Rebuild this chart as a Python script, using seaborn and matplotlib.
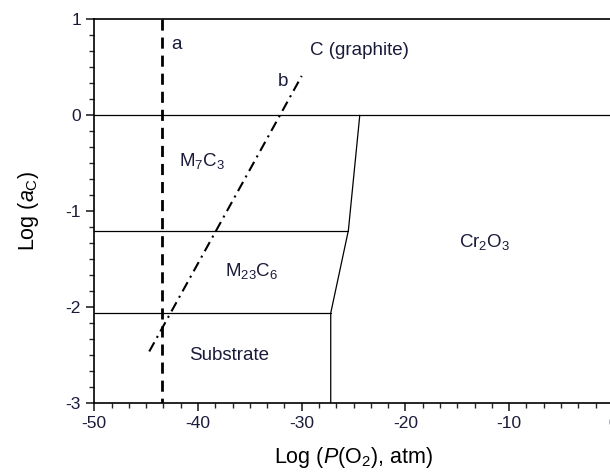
import numpy as np
import pandas as pd
import matplotlib
matplotlib.use("Agg")
import matplotlib.pyplot as plt
from matplotlib.ticker import MultipleLocator
import seaborn as sns

# Datos del diagrama de estabilidad
# límites horizontales de fases: y, x_inicio, x_fin
h_y = [0.0, -1.2, -2.06]
h_x0 = [-50, -50, -50]
h_x1 = [0, -25.5, -27.2]

# frontera con Cr2O3
front_x = [-27.2, -27.2, -25.5, -24.4]
front_y = [-3.0, -2.06, -1.2, 0.0]

# línea a (vertical discontinua)
a_x = [-43.5, -43.5]
a_y = [1.0, -3.0]

# línea b (punto y raya)
b_x = [-44.7, -30.0]
b_y = [-2.46, 0.41]

# etiquetas
lab_txt = ["a", "b", "C (graphite)", r"M$_7$C$_3$", r"M$_{23}$C$_6$", "Substrate", r"Cr$_2$O$_3$"]
lab_x = [-42.6, -32.3, -29.2, -41.8, -37.4, -40.9, -14.8]
lab_y = [0.74, 0.35, 0.68, -0.48, -1.62, -2.5, -1.32]

sns.set_theme(style="ticks")
plt.rcParams["font.family"] = ["Liberation Sans", "DejaVu Sans"]
plt.rcParams["mathtext.fontset"] = "custom"
plt.rcParams["mathtext.rm"] = "Liberation Sans"
plt.rcParams["mathtext.it"] = "Liberation Sans:italic"
plt.rcParams["axes.unicode_minus"] = False
txt_col = "#1a1a3a"

fig = plt.figure(figsize=(6.1, 4.73), dpi=100)
ax = fig.add_axes([94.3 / 610, 69.7 / 473, 518.5 / 610, 384 / 473])

for y, x0, x1 in zip(h_y, h_x0, h_x1):
    df = pd.DataFrame({"x": [x0, x1], "y": [y, y]})
    sns.lineplot(data=df, x="x", y="y", ax=ax, color="black", lw=0.9,
                 sort=False, estimator=None)

sns.lineplot(x=front_x, y=front_y, ax=ax, color="black", lw=0.9,
             sort=False, estimator=None)
sns.lineplot(x=a_x, y=a_y, ax=ax, color="black", lw=2, sort=False,
             estimator=None, linestyle=(0, (4, 2.5)))
sns.lineplot(x=b_x, y=b_y, ax=ax, color="black", lw=1.5, sort=False,
             estimator=None, linestyle=(0, (5, 2.5, 1, 2.5)))

for t, x, y in zip(lab_txt, lab_x, lab_y):
    ax.text(x, y, t, fontsize=13.5, color=txt_col, ha="left", va="center")

ax.set_xlim(-50, 0)
ax.set_ylim(-3, 1)
ax.xaxis.set_major_locator(MultipleLocator(10))
ax.xaxis.set_minor_locator(MultipleLocator(10 / 6))
ax.yaxis.set_major_locator(MultipleLocator(1))
ax.yaxis.set_minor_locator(MultipleLocator(1 / 6))
ax.tick_params(which="major", length=6, width=1.2, labelsize=12.5, labelcolor=txt_col, direction="out")
ax.tick_params(which="minor", length=3.5, width=1.0, direction="out")
for s in ax.spines.values():
    s.set_linewidth(1.2)
    s.set_color("black")

ax.set_xlabel(r"Log ($\mathit{P}$(O$_2$), atm)", fontsize=15.5, color="black", labelpad=10)
ax.set_ylabel(r"Log ($\mathit{a}_\mathrm{C}$)", fontsize=15.5, color="black", labelpad=18)

fig.savefig("out.png", dpi=100)
